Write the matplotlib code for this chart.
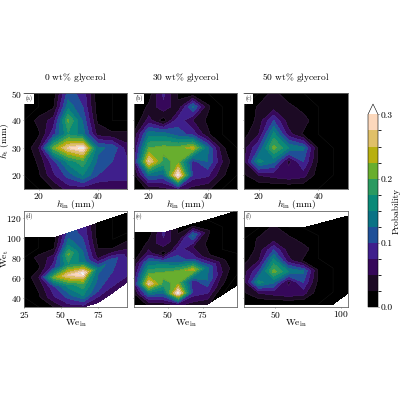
import numpy as np
import matplotlib
matplotlib.use("Agg")
import matplotlib.pyplot as plt
from matplotlib.colors import ListedColormap, BoundaryNorm

plt.rcParams['font.family'] = ['cmr10', 'DejaVu Serif']
plt.rcParams['mathtext.fontset'] = 'cm'
plt.rcParams['axes.formatter.use_mathtext'] = True
plt.rcParams['axes.unicode_minus'] = False

h_in = [15, 20, 25, 30, 35, 40, 45, 50]
h_t = [15, 20, 25, 30, 35, 40, 45, 50]

z_0 = [
    [0.00, 0.00, 0.025, 0.06, 0.06, 0.05, 0.05, 0.05],
    [0.00, 0.02, 0.07, 0.11, 0.15, 0.10, 0.09, 0.09],
    [0.00, 0.03, 0.09, 0.16, 0.19, 0.12, 0.10, 0.08],
    [0.00, 0.05, 0.21, 0.28, 0.31, 0.13, 0.12, 0.06],
    [0.00, 0.02, 0.09, 0.17, 0.14, 0.04, 0.03, 0.03],
    [0.00, 0.035, 0.06, 0.205, 0.12, 0.02, 0.00, 0.00],
    [0.00, 0.00, 0.02, 0.14, 0.10, 0.01, 0.00, 0.00],
    [0.00, 0.00, 0.01, 0.11, 0.09, 0.01, 0.00, 0.00],
]
z_30 = [
    [0.00, 0.03, 0.04, 0.06, 0.04, 0.03, 0.00, 0.00],
    [0.02, 0.13, 0.12, 0.31, 0.09, 0.08, 0.03, 0.00],
    [0.06, 0.28, 0.19, 0.21, 0.09, 0.125, 0.05, 0.00],
    [0.05, 0.20, 0.21, 0.21, 0.24, 0.13, 0.03, 0.00],
    [0.03, 0.14, 0.14, 0.11, 0.09, 0.03, 0.00, 0.00],
    [0.00, 0.06, 0.01, 0.09, 0.05, 0.02, 0.00, 0.00],
    [0.00, 0.03, 0.07, 0.03, 0.13, 0.03, 0.00, 0.00],
    [0.00, 0.01, 0.08, 0.02, 0.00, 0.00, 0.00, 0.00],
]
z_50 = [
    [0.00, 0.00, 0.00, 0.00, 0.00, 0.00, 0.00, 0.00],
    [0.02, 0.05, 0.06, 0.07, 0.06, 0.01, 0.00, 0.00],
    [0.04, 0.16, 0.13, 0.04, 0.10, 0.02, 0.00, 0.00],
    [0.04, 0.10, 0.21, 0.15, 0.13, 0.02, 0.00, 0.00],
    [0.015, 0.05, 0.16, 0.06, 0.02, 0.00, 0.00, 0.00],
    [0.00, 0.035, 0.10, 0.035, 0.04, 0.00, 0.00, 0.00],
    [0.00, 0.03, 0.035, 0.035, 0.01, 0.00, 0.00, 0.00],
    [0.00, 0.00, 0.035, 0.00, 0.00, 0.00, 0.00, 0.00],
]

we_in_d = [25, 35, 45, 55, 65, 75, 85, 95]
we_t_top_d = [100, 100, 100, 105, 110, 115, 120, 125]
we_t_low_d = [30.6, 30.6, 30.6, 30.6, 30.6, 35, 45, 56]
we_in_e = [26, 36.5, 47, 57.5, 68, 78.5, 89, 99.5]
we_t_top_e = [105, 105, 105, 109.5, 114, 118, 122.5, 127]
we_t_low_e = [33.5, 33.5, 33.5, 33.5, 33.5, 33.5, 43, 52.5]
we_in_f = [26.5, 37.7, 48.9, 60.1, 71.3, 82.5, 93.7, 105]
we_t_top_f = [110, 110, 110, 110, 110, 114, 118, 122]
we_t_low_f = [33.5, 33.5, 33.5, 33.5, 33.5, 33.5, 33.5, 44.5]

levels = [0.0, 0.025, 0.05, 0.075, 0.1, 0.125, 0.15, 0.175, 0.2, 0.225, 0.25, 0.275, 0.3]
colors = ['#000000', '#1c0a24', '#36085a', '#3f1f8c', '#1f5098', '#0a7385',
          '#0a8a78', '#2a9a60', '#68ae2e', '#b8b010', '#e0c068', '#fcd8bc']
titles = [r'0 wt$\%$ glycerol', r'30 wt$\%$ glycerol', r'50 wt$\%$ glycerol']
tags_top = ['(a)', '(b)', '(c)']
tags_bot = ['(d)', '(e)', '(f)']

cmap = ListedColormap(colors)
cmap.set_over('white')
norm = BoundaryNorm(levels, cmap.N)

W = H = 400.0
FS = 6.8
fig = plt.figure(figsize=(4, 4), dpi=100)


def box(l, t, r, b):
    return [l / W, 1 - b / H, (r - l) / W, (b - t) / H]


def finish(ax):
    ax.tick_params(labelsize=FS, length=0.8, width=0.4, pad=0.5, color='#555555')
    for s in ax.spines.values():
        s.set_linewidth(0.6)
        s.set_color('#666666')


tops = [(24, 127), (134, 237), (244, 348)]
zs = [np.array(z_0), np.array(z_30), np.array(z_50)]
cf = None
for i, ((l, r), z) in enumerate(zip(tops, zs)):
    ax = fig.add_axes(box(l, 93, r, 189))
    cf = ax.contourf(h_in, h_t, z, levels=levels, cmap=cmap, norm=norm, extend='max')
    ax.contour(h_in, h_t, z, levels=levels, colors='#555555', linewidths=0.15, alpha=0.6)
    ax.set_xlim(15, 50)
    ax.set_ylim(15, 50)
    ax.set_xticks([20, 40])
    ax.set_yticks([20, 30, 40, 50])
    if i == 0:
        ax.set_ylabel(r'$h_{\rm t}$ (mm)', fontsize=FS)
        ax.yaxis.set_label_coords(-0.125, 0.5)
    else:
        ax.set_yticklabels([])
    ax.set_xlabel(r'$h_{\rm in}$ (mm)', fontsize=FS)
    ax.xaxis.set_label_coords(0.5, -0.09)
    ax.set_title(titles[i], fontsize=FS, pad=9.5)
    ax.text(0.015, 0.975, tags_top[i], transform=ax.transAxes, fontsize=4, va='top', ha='left',
            bbox=dict(fc='white', ec='none', pad=0.8))
    finish(ax)

bots = [
    ((24, 127), we_in_d, we_t_low_d, we_t_top_d, (25, 94.6), [25, 50, 75]),
    ((134, 237), we_in_e, we_t_low_e, we_t_top_e, (26, 99.5), [50, 75]),
    ((244, 348), we_in_f, we_t_low_f, we_t_top_f, (26.5, 105), [50, 100]),
]
for i, (((l, r), xs, low, top, xlim, xt), z) in enumerate(zip(bots, zs)):
    ax = fig.add_axes(box(l, 211, r, 307))
    X = np.tile(np.array(xs, float), (len(h_t), 1))
    frac = (np.array(h_t, float) - h_t[0]) / (h_t[-1] - h_t[0])
    Y = np.outer(frac, np.array(top) - np.array(low)) + np.array(low)
    ax.contourf(X, Y, z, levels=levels, cmap=cmap, norm=norm, extend='max')
    ax.contour(X, Y, z, levels=levels, colors='#555555', linewidths=0.15, alpha=0.6)
    ax.set_xlim(*xlim)
    ax.set_ylim(30.6, 127)
    ax.set_xticks(xt)
    ax.set_yticks([40, 60, 80, 100, 120])
    if i == 0:
        ax.set_ylabel(r'We$_{\rm t}$', fontsize=FS)
        ax.yaxis.set_label_coords(-0.125, 0.5)
    else:
        ax.set_yticklabels([])
    ax.set_xlabel(r'We$_{\rm in}$', fontsize=FS)
    ax.xaxis.set_label_coords(0.5, -0.105)
    ax.text(0.015, 0.975, tags_bot[i], transform=ax.transAxes, fontsize=4, va='top', ha='left')
    finish(ax)

cax = fig.add_axes(box(368, 104, 378, 307))
cb = fig.colorbar(cf, cax=cax, extend='max', extendfrac=0.054, spacing='proportional',
                  drawedges=False)
cb.set_ticks([0.0, 0.1, 0.2, 0.3])
cb.set_ticklabels(['0.0', '0.1', '0.2', '0.3'])
cb.ax.tick_params(labelsize=FS, length=1.0, width=0.4, pad=0.8)
cb.set_label('Probability', fontsize=FS, labelpad=-0.5)
cb.outline.set_linewidth(0.4)

fig.savefig('out.png', dpi=100)
